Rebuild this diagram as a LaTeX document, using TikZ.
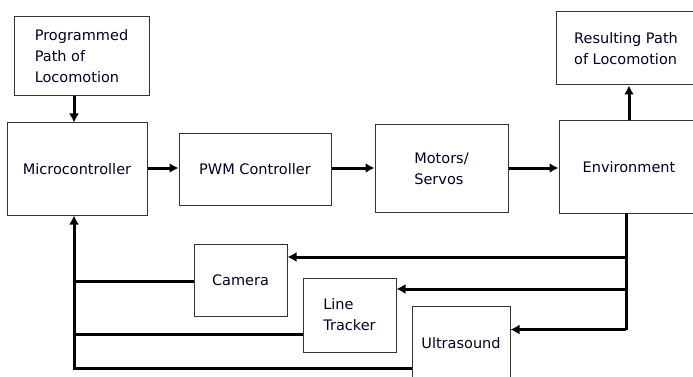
\documentclass[tikz,border=0pt]{standalone}
\usepackage{fontspec}
\setmainfont{DejaVu Sans}
\usetikzlibrary{arrows.meta,calc}
\begin{document}
\begin{tikzpicture}[x=1pt,y=-1pt,
  box/.style={draw=black!80,line width=1pt,inner sep=0pt,align=left,
    font=\fontsize{14.5}{21}\selectfont,text=black!85!blue},
  wire/.style={line width=3pt,line join=miter},
  arr/.style={wire,-{Latex[length=9pt,width=10pt]}}]
\useasboundingbox (0,0) rectangle (693,377);
\clip (0,0) rectangle (693,377);
\node[box,minimum width=135pt,minimum height=79pt] (prog) at (81.5,56.5) {Programmed\\Path of\\Locomotion};
\node[box,minimum width=140pt,minimum height=92pt] (micro) at (77,169) {Microcontroller};
\node[box,minimum width=152pt,minimum height=71pt] (pwm) at (255,169.5) {PWM Controller};
\node[box,minimum width=133pt,minimum height=87pt] (motors) at (441.5,168.5) {Motors/\\Servos};
\node[box,minimum width=140pt,minimum height=92pt] (env) at (629,167) {Environment};
\node[box,minimum width=140pt,minimum height=73pt] (result) at (626,48.5) {Resulting Path\\of Locomotion};
\node[box,minimum width=93pt,minimum height=72pt] (cam) at (240.5,280) {Camera};
\node[box,minimum width=93pt,minimum height=74pt] (lt) at (349.5,315) {Line\\Tracker};
\node[box,minimum width=98pt,minimum height=74pt] (us) at (461,343) {Ultrasound};
% forward path
\coordinate (pa) at (74,96);
\draw[arr] (pa) -- (pa |- micro.north);
\coordinate (fy) at (0,168);
\draw[arr] (micro.east |- fy) -- (pwm.west |- fy);
\draw[arr] (pwm.east |- fy) -- (motors.west |- fy);
\draw[arr] (motors.east |- fy) -- (env.west |- fy);
\draw[arr] (env.north) -- (env.north |- result.south);
% feedback taps
\coordinate (t0) at (626,213);
\coordinate (t3) at (626,329.5);
\coordinate (yc) at (0,257);
\coordinate (yl) at (0,289);
\draw[wire] (t0) -- (t3);
\draw[arr] (t0 |- yc) -- (cam.east |- yc);
\draw[arr] (t0 |- yl) -- (lt.east |- yl);
\draw[arr] (t3) -- (us.east |- t3);
% return bus
\coordinate (bus) at (74,368);
\draw[arr] (us.west |- bus) -- (bus) -- (bus |- micro.south);
\draw[wire] (cam.west |- 0,281) -- (bus |- 0,281);
\draw[wire] (lt.west |- 0,334) -- (bus |- 0,334);
\end{tikzpicture}
\end{document}
